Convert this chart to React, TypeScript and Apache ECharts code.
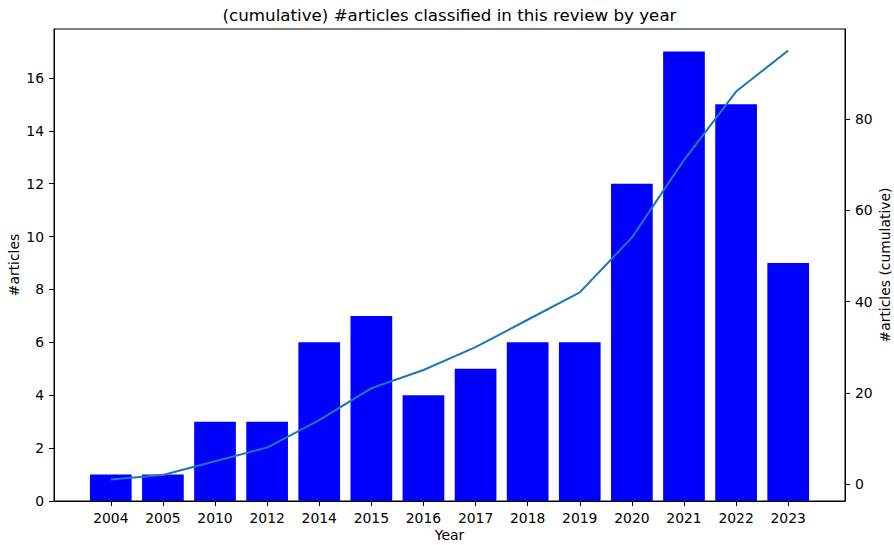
import React, { useEffect, useRef } from "react";
import * as echarts from "echarts";

const years = ["2004", "2005", "2010", "2012", "2014", "2015", "2016", "2017", "2018", "2019", "2020", "2021", "2022", "2023"];
const articles = [1, 1, 3, 3, 6, 7, 4, 5, 6, 6, 12, 17, 15, 9];
const cumulative = [1, 2, 5, 8, 14, 21, 25, 30, 36, 42, 54, 71, 86, 95];
const leftTicks = [0, 2, 4, 6, 8, 10, 12, 14, 16];
const rightTicks = [0, 20, 40, 60, 80];
const xTicks = years.map((_, i) => i);

const FONT = '"DejaVu Sans", sans-serif';

export default function App() {
  const ref = useRef<HTMLDivElement>(null);
  useEffect(() => {
    if (!ref.current) return;
    const chart = echarts.init(ref.current, undefined, { renderer: "svg" });
    const axisCommon = {
      axisLine: { show: true, onZero: false, lineStyle: { color: "#000", width: 1 } },
      splitLine: { show: false },
    };
    chart.setOption({
      animation: false,
      backgroundColor: "#fff",
      grid: {
        left: 54,
        right: 49,
        top: 29,
        bottom: 44,
        show: true,
        borderColor: "#000",
        borderWidth: 1,
        backgroundColor: "transparent",
        containLabel: false,
      },
      xAxis: {
        type: "value",
        min: -1.09,
        max: 14.09,
        ...axisCommon,
        axisTick: { show: true, customValues: xTicks, length: 5, lineStyle: { color: "#000", width: 1 } },
        axisLabel: {
          customValues: xTicks,
          formatter: (v: number) => years[Math.round(v)] ?? "",
          margin: 10,
          color: "#000",
          fontSize: 13.9,
          fontFamily: FONT,
        },
      },
      yAxis: [
        {
          type: "value",
          position: "left",
          min: 0,
          max: 17.85,
          ...axisCommon,
          axisTick: { show: true, customValues: leftTicks, length: 5, lineStyle: { color: "#000", width: 1 } },
          axisLabel: {
            customValues: leftTicks,
            margin: 10,
            color: "#000",
            fontSize: 13.9,
            fontFamily: FONT,
          },
        },
        {
          type: "value",
          position: "right",
          min: -3.7,
          max: 99.7,
          ...axisCommon,
          axisTick: { show: true, customValues: rightTicks, length: 5, lineStyle: { color: "#000", width: 1 } },
          axisLabel: {
            customValues: rightTicks,
            margin: 10,
            color: "#000",
            fontSize: 13.9,
            fontFamily: FONT,
          },
        },
      ],
      series: [
        {
          type: "bar",
          xAxisIndex: 0,
          yAxisIndex: 0,
          barWidth: 41.7,
          itemStyle: { color: "#0000ff" },
          data: articles.map((v, i) => [i, v]),
        },
        {
          type: "line",
          xAxisIndex: 0,
          yAxisIndex: 1,
          showSymbol: false,
          symbol: "none",
          lineStyle: { color: "#1f77b4", width: 2.08 },
          itemStyle: { color: "#1f77b4" },
          data: cumulative.map((v, i) => [i, v]),
          z: 5,
        },
      ],
      graphic: [
        {
          type: "text",
          x: 449.5,
          y: 15,
          style: {
            text: "(cumulative) #articles classified in this review by year",
            fill: "#000",
            font: `16.7px ${FONT}`,
            align: "center",
            verticalAlign: "middle",
            textAlign: "center",
            textVerticalAlign: "middle",
          },
        },
        {
          type: "text",
          x: 449.5,
          y: 535,
          style: {
            text: "Year",
            fill: "#000",
            font: `13.9px ${FONT}`,
            align: "center",
            verticalAlign: "middle",
            textAlign: "center",
            textVerticalAlign: "middle",
          },
        },
        {
          type: "text",
          x: 14,
          y: 265,
          rotation: Math.PI / 2,
          style: {
            text: "#articles",
            fill: "#000",
            font: `13.9px ${FONT}`,
            align: "center",
            verticalAlign: "middle",
            textAlign: "center",
            textVerticalAlign: "middle",
          },
        },
        {
          type: "text",
          x: 885,
          y: 265,
          rotation: Math.PI / 2,
          style: {
            text: "#articles (cumulative)",
            fill: "#000",
            font: `13.9px ${FONT}`,
            align: "center",
            verticalAlign: "middle",
            textAlign: "center",
            textVerticalAlign: "middle",
          },
        },
      ],
    });
    return () => chart.dispose();
  }, []);
  return (
    <div
      ref={ref}
      style={{ position: "absolute", left: 0, top: 0, width: 894, height: 545 }}
    />
  );
}
